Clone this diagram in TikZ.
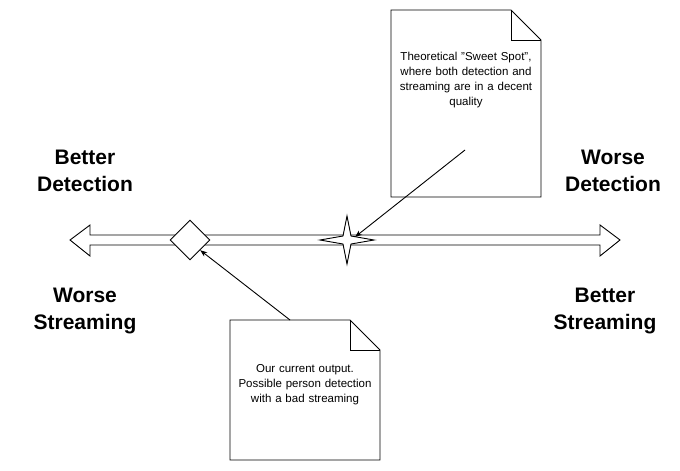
\documentclass[tikz,border=0pt]{standalone}
\usepackage{fontspec}
\setmainfont{Liberation Sans}
\usetikzlibrary{positioning,arrows.meta,calc}

\begin{document}
\begin{tikzpicture}[x=1pt,y=-1pt,line width=0.9pt,
    note/.style={draw,fill=white},
    label/.style={font=\bfseries\fontsize{21}{27}\selectfont,align=center},
    notetext/.style={font=\fontsize{11.5}{15}\selectfont,align=center,text width=140pt},
    arrow/.style={-Stealth}
]
\useasboundingbox (0,0) rectangle (680,471);

% double arrow axis
\draw[fill=white] (70,240) -- (90,225) -- (90,235) -- (600,235) -- (600,225) -- (620,240)
    -- (600,256) -- (600,245) -- (90,245) -- (90,256) -- cycle;

% markers
\node[draw,fill=white,rotate=45,minimum size=28pt,inner sep=0] (current) at (190,240) {};
\draw[fill=white] (347,216) -- (351,236) -- (374,240) -- (351,244) -- (347,264)
    -- (343,244) -- (320,240) -- (343,236) -- cycle;
\coordinate (sweet) at (355,237);

% axis labels
\node[label] (betterdet) at (85,171) {Better\\Detection};
\node[label] (worsedet) at (613,171) {Worse\\Detection};
\node[label] (worsestr) at (85,311) {Worse\\Streaming};
\node[label] (betterstr) at (605,311) {Better\\Streaming};

% notes
\draw[note] (391,10) -- (511,10) -- (541,40) -- (541,197) -- (391,197) -- cycle;
\draw (511,10) -- (511,40) -- (541,40);
\node[notetext] (sweetnote) at (466,80) {Theoretical \symbol{34}Sweet Spot\symbol{34},\\where both detection and\\streaming are in a decent\\quality};
\draw[note] (230,320) -- (350,320) -- (380,350) -- (380,460) -- (230,460) -- cycle;
\draw (350,320) -- (350,350) -- (380,350);
\node[notetext] (currentnote) at (305,385) {Our current output.\\Possible person detection\\with a bad streaming};

% connectors
\coordinate (sweetfrom) at (465,150);
\coordinate (currentfrom) at (290,320);
\draw[arrow] (sweetfrom) -- (sweet);
\draw[arrow] (currentfrom) -- (current.south);
\end{tikzpicture}
\end{document}
